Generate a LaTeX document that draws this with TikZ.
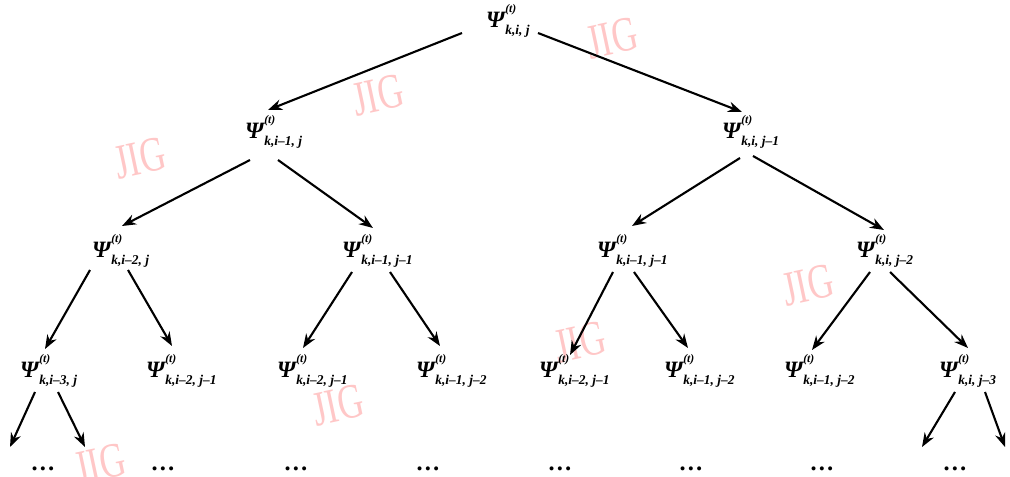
\documentclass[tikz,border=0pt]{standalone}
\usepackage{fontspec}
\setmainfont{Liberation Serif}
\usetikzlibrary{arrows.meta}

% stacked super/subscript label: bold italic Psi^(t)_{sub}
\newcommand\PsiLab[1]{{\bfseries\itshape Ψ\kern0.3pt\rlap{\raisebox{0.6em}{\fontsize{10}{11}\selectfont (t)}}\raisebox{-0.3em}{\fontsize{11.5}{12}\selectfont #1}}}

\begin{document}
\begin{tikzpicture}[x=0.03cm,y=-0.03cm,
  lab/.style={anchor=base west,inner sep=0pt,font=\fontsize{20}{22}\selectfont},
  more/.style={anchor=base,inner sep=0pt,font=\fontsize{21}{22}\selectfont\bfseries},
  arr/.style={line width=1.8pt,-{Stealth[length=12pt,width=9pt]}},
  stamp/.style={text=red!22,font=\fontsize{42}{44}\selectfont,rotate=12,xscale=0.72,inner sep=0pt}]
\useasboundingbox (0,0) rectangle (1010,477);

% faint JIG stamps in the background
\foreach \p in {(612,38),(378,95),(140,158),(808,285),(580,342),(338,405),(100,464),(838,-24)}
  \node[stamp] at \p {JIG};

% tree levels
\node[lab] (r)  at (486,27)  {\PsiLab{k,i, j}};
\node[lab] (a)  at (245,138) {\PsiLab{k,i–1, j}};
\node[lab] (b)  at (722,138) {\PsiLab{k,i, j–1}};
\node[lab] (c)  at (92,257)  {\PsiLab{k,i–2, j}};
\node[lab] (d)  at (342,257) {\PsiLab{k,i–1, j–1}};
\node[lab] (e)  at (597,257) {\PsiLab{k,i–1, j–1}};
\node[lab] (f)  at (856,257) {\PsiLab{k,i, j–2}};
\node[lab] (g1) at (20,377)  {\PsiLab{k,i–3, j}};
\node[lab] (g2) at (146,377) {\PsiLab{k,i–2, j–1}};
\node[lab] (g3) at (277,377) {\PsiLab{k,i–2, j–1}};
\node[lab] (g4) at (416,377) {\PsiLab{k,i–1, j–2}};
\node[lab] (g5) at (539,377) {\PsiLab{k,i–2, j–1}};
\node[lab] (g6) at (664,377) {\PsiLab{k,i–1, j–2}};
\node[lab] (g7) at (784,377) {\PsiLab{k,i–1, j–2}};
\node[lab] (g8) at (939,377) {\PsiLab{k,i, j–3}};

% continuation dots
\node[more] (h1) at (43,470)  {…};
\node[more] (h2) at (163,470) {…};
\node[more] (h3) at (296,470) {…};
\node[more] (h4) at (428,470) {…};
\node[more] (h5) at (560,470) {…};
\node[more] (h6) at (691,470) {…};
\node[more] (h7) at (822,470) {…};
\node[more] (h8) at (955,470) {…};

% connectors
\draw[arr] ([shift={(-24,6)}]r.base west) -- ([shift={(23,-28)}]a.base west);
\draw[arr] ([shift={(52,6)}]r.base west)  -- ([shift={(20,-26)}]b.base west);
\draw[arr] ([shift={(5,22)}]a.base west)  -- ([shift={(30,-31)}]c.base west);
\draw[arr] ([shift={(33,22)}]a.base west) -- ([shift={(31,-29)}]d.base west);
\draw[arr] ([shift={(18,20)}]b.base west) -- ([shift={(35,-31)}]e.base west);
\draw[arr] ([shift={(31,18)}]b.base west) -- ([shift={(28,-27)}]f.base west);
\draw[arr] ([shift={(-2,13)}]c.base west) -- ([shift={(25,-28)}]g1.base west);
\draw[arr] ([shift={(36,13)}]c.base west) -- ([shift={(26,-31)}]g2.base west);
\draw[arr] ([shift={(10,15)}]d.base west)  -- ([shift={(26,-29)}]g3.base west);
\draw[arr] ([shift={(48,15)}]d.base west) -- ([shift={(24,-31)}]g4.base west);
\draw[arr] ([shift={(16,15)}]e.base west) -- ([shift={(31,-22)}]g5.base west);
\draw[arr] ([shift={(37,15)}]e.base west) -- ([shift={(24,-29)}]g6.base west);
\draw[arr] ([shift={(14,15)}]f.base west) -- ([shift={(28,-27)}]g7.base west);
\draw[arr] ([shift={(34,15)}]f.base west) -- ([shift={(29,-29)}]g8.base west);
\draw[arr] ([shift={(15,15)}]g1.base west) -- ([shift={(-33,-23)}]h1.base);
\draw[arr] ([shift={(38,15)}]g1.base west) -- ([shift={(42,-23)}]h1.base);
\draw[arr] ([shift={(16,15)}]g8.base west) -- ([shift={(-33,-23)}]h8.base);
\draw[arr] ([shift={(46,15)}]g8.base west) -- ([shift={(50,-23)}]h8.base);
\end{tikzpicture}
\end{document}
